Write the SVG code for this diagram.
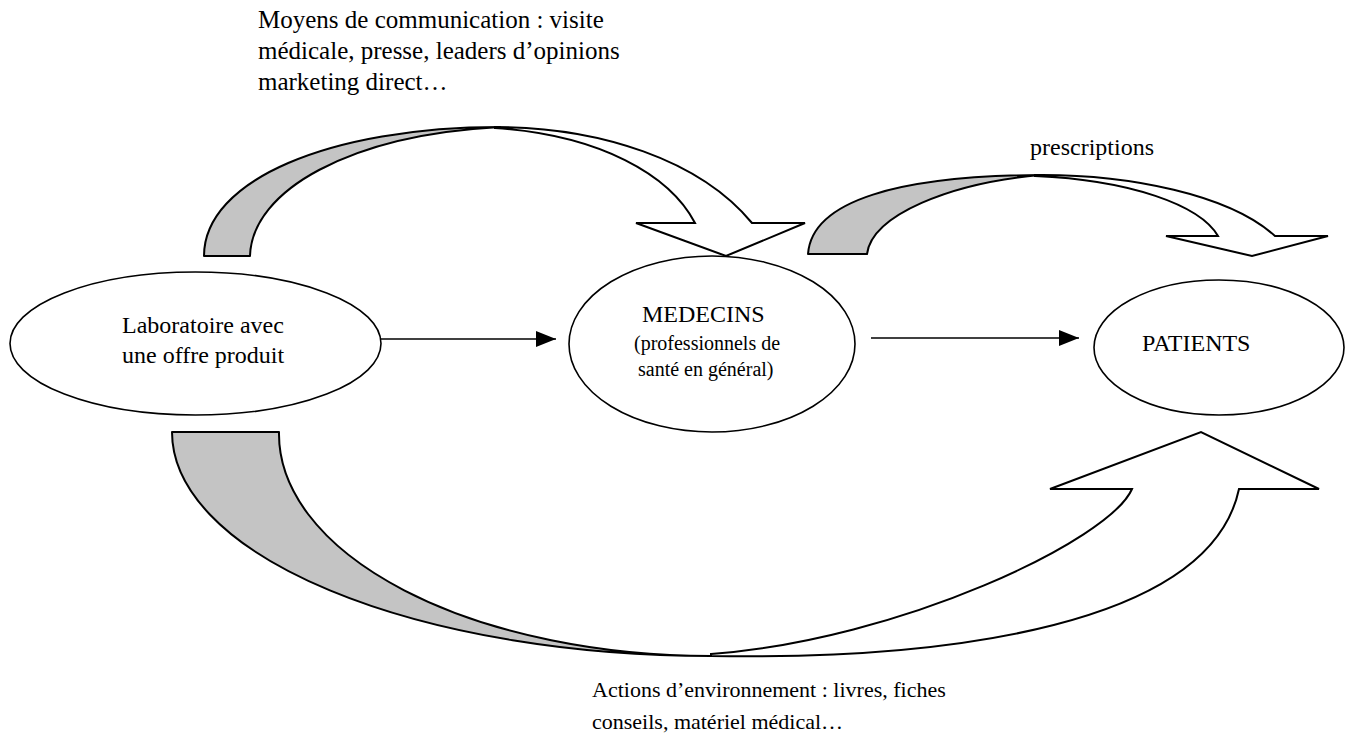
<svg xmlns="http://www.w3.org/2000/svg" width="1357" height="741" viewBox="0 0 1357 741">
<style>
.t{font-family:"Liberation Serif","Times New Roman",serif;fill:#000}
.s20{font-size:20px}
.s22{font-size:22px}
.s24{font-size:24px}
.s25{font-size:25px}
.node{fill:#fff;stroke:#000;stroke-width:1.6}
.band{fill:#c4c4c4;stroke:#000;stroke-width:2;stroke-linejoin:round}
.white{fill:#fff;stroke:#000;stroke-width:2;stroke-linejoin:miter}
.line{stroke:#000;stroke-width:1.6;fill:none}
</style>
<defs>
<marker id="ah" markerWidth="20" markerHeight="16" refX="20" refY="8" orient="auto" markerUnits="userSpaceOnUse">
<path d="M0,0 L20,8 L0,16 Z" fill="#000"/>
</marker>
</defs>
<rect width="1357" height="741" fill="#fff"/>

<g id="connectors">
<g id="arrow-communication">
<path class="white" d="M495,127 C600,127 700,160 752,223 L805,223 L726,256 L636,223 L695,223 C670,175 600,135 495,128 Z"/>
<path class="band" d="M204,256 C204,180 330,127 500,127 C350,135 252,190 250,256 Z"/>
</g>
<g id="arrow-prescriptions">
<path class="white" d="M1035,175 C1130,174 1230,195 1275,236 L1328,236 L1252,256 L1166,236 L1218,236 C1200,205 1130,180 1035,176 Z"/>
<path class="band" d="M808,254 C812,200 900,176 1040,175 C950,183 872,215 867,254 Z"/>
</g>
<g id="arrow-environnement">
<path class="white" d="M711,656 C950,660 1210,625 1239,489 L1319,489 L1201,432 L1050,489 L1132,489 C1110,540 900,640 711,654 Z"/>
<path class="band" d="M172,432 A539,224 0 0 0 711,656 A432,222 0 0 1 279,432 Z"/>
</g>
<line class="line" x1="364" y1="339" x2="556" y2="339" marker-end="url(#ah)"/>
<line class="line" x1="871" y1="338" x2="1079" y2="338" marker-end="url(#ah)"/>
</g>

<g id="node-laboratoire">
<ellipse class="node" cx="195.5" cy="343.5" rx="185.5" ry="71.5"/>
<text class="t s24" x="122" y="333">Laboratoire avec</text>
<text class="t s24" x="122" y="363">une offre produit</text>
</g>

<g id="node-medecins">
<ellipse class="node" cx="712" cy="344" rx="143" ry="88"/>
<text class="t s24" x="642" y="322">MEDECINS</text>
<text class="t s20" x="634" y="350">(professionnels de</text>
<text class="t s20" x="638" y="376">santé en général)</text>
</g>

<g id="node-patients">
<ellipse class="node" cx="1219" cy="347.5" rx="125" ry="67.5"/>
<text class="t s24" x="1142" y="351">PATIENTS</text>
</g>

<g id="labels">
<text class="t s25" x="258" y="28">Moyens de communication : visite</text>
<text class="t s25" x="258" y="59">médicale, presse, leaders d’opinions</text>
<text class="t s25" x="258" y="90">marketing direct…</text>
<text class="t s24" x="1030" y="155">prescriptions</text>
<text class="t s22" x="592" y="697">Actions d’environnement : livres, fiches</text>
<text class="t s22" x="592" y="729">conseils, matériel médical…</text>
</g>
</svg>
